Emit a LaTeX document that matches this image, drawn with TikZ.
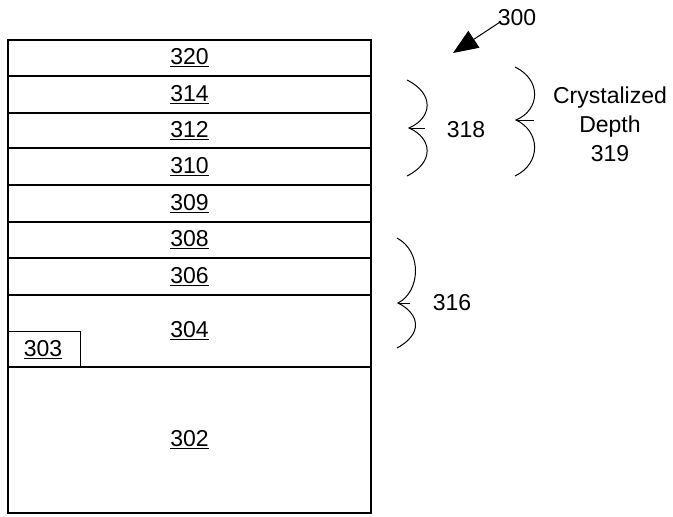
\documentclass[tikz,border=0pt]{standalone}
\usepackage{fontspec}
\setmainfont{Liberation Sans}
\usetikzlibrary{arrows.meta}
\newcommand{\ul}[1]{\underline{#1}}
\begin{document}
\begin{tikzpicture}[x=1pt,y=-1pt,
  every node/.style={font=\fontsize{23}{29}\selectfont},
  layer/.style={draw, line width=1.1pt, minimum width=363pt, inner sep=0pt},
  smallbox/.style={draw, line width=1.1pt, minimum width=72pt, minimum height=36pt, inner sep=0pt},
  bracepath/.style={line width=1pt},
  lbl/.style={inner sep=0pt, align=center}]
\useasboundingbox (0,0) rectangle (673,517);
\node[layer, minimum height=36pt] (l320) at (189.5,58) {\ul{320}};
\node[layer, minimum height=37pt] (l314) at (189.5,94.5) {\ul{314}};
\node[layer, minimum height=35pt] (l312) at (189.5,130.5) {\ul{312}};
\node[layer, minimum height=37pt] (l310) at (189.5,166.5) {\ul{310}};
\node[layer, minimum height=37pt] (l309) at (189.5,203.5) {\ul{309}};
\node[layer, minimum height=36pt] (l308) at (189.5,240) {\ul{308}};
\node[layer, minimum height=37pt] (l306) at (189.5,276.5) {\ul{306}};
\node[layer, minimum height=72pt] (l304) at (189.5,331) {\ul{304}};
\node[layer, minimum height=146pt] (l302) at (189.5,440) {\ul{302}};
\node[smallbox, anchor=north west] (l303) at (8,331) {};
\node[inner sep=0pt] (t303) at (43,350) {\ul{303}};
% braces
\draw[bracepath] (407,80) .. controls (435,94) and (432,118) .. (409,128)
  .. controls (432,138) and (435,162) .. (407,176);
\draw[bracepath] (409,128) -- (425,128);
\draw[bracepath] (515,67) .. controls (542,80) and (540,110) .. (516,120)
  .. controls (540,131) and (542,163) .. (515,176);
\draw[bracepath] (516,120) -- (534,120);
\draw[bracepath] (397,238) .. controls (423,252) and (420,292) .. (398,303)
  .. controls (420,314) and (423,334) .. (397,348);
\draw[bracepath] (398,303) -- (410,303);
\node[lbl] (t318) at (466,130) {318};
\node[lbl] (t319) at (610,124) {Crystalized\\Depth\\319};
\node[lbl] (t316) at (452,303) {316};
\node[lbl] (t300) at (517,18) {300};
\coordinate (a300) at (453,53);
\draw[line width=1pt, -{Triangle[length=25pt,width=20pt]}] (t300.south west) ++(2,-4) -- (a300);
\end{tikzpicture}
\end{document}
